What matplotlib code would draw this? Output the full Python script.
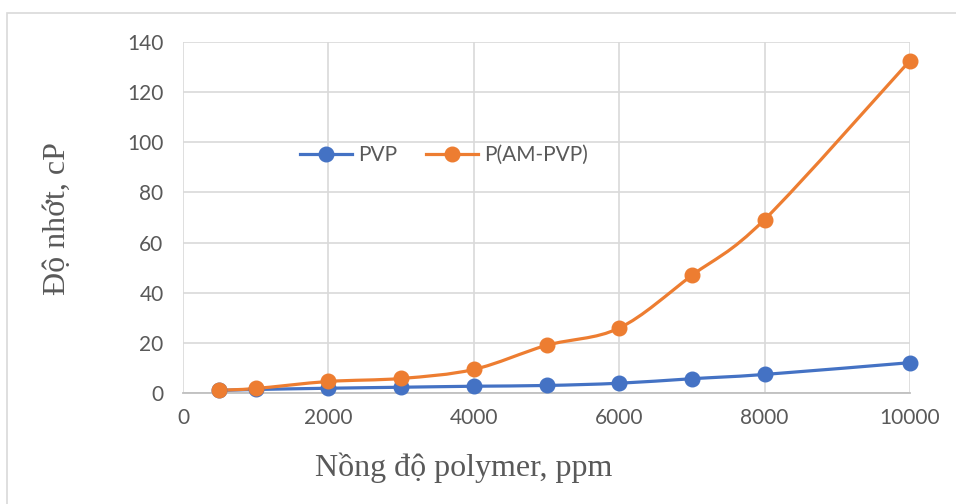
import matplotlib
matplotlib.use("Agg")
import matplotlib.pyplot as plt
from matplotlib.path import Path
from matplotlib.patches import PathPatch, Rectangle
from matplotlib.lines import Line2D
import numpy as np

# Polymer concentration (ppm) and measured viscosity (cP)
concentration = [500, 1000, 2000, 3000, 4000, 5000, 6000, 7000, 8000, 10000]
pvp = [1.0, 1.4, 1.9, 2.3, 2.7, 3.0, 3.9, 5.7, 7.4, 12.1]
p_am_pvp = [1.1, 1.8, 4.6, 5.8, 9.4, 19.0, 25.9, 46.9, 69.2, 132.6]

series_names = ["PVP", "P(AM-PVP)"]
series_colors = ["#4472C4", "#ED7D31"]
x_ticks = [0, 2000, 4000, 6000, 8000, 10000]
y_ticks = [0, 20, 40, 60, 80, 100, 120, 140]

TEXT = "#595959"
GRID = "#D9D9D9"

W, H = 956, 504
fig = plt.figure(figsize=(W / 100, H / 100), dpi=100)
fig.patch.set_facecolor("white")

# chart frame
fig.add_artist(Rectangle((7 / W, -0.1), 1.2, (H - 13) / H + 0.1,
                         transform=fig.transFigure, fill=False,
                         edgecolor="#D9D9D9", linewidth=1.2))

left, right, top, bottom = 183, 910, 42, 393
ax = fig.add_axes([left / W, 1 - bottom / H, (right - left) / W, (bottom - top) / H])
ax.set_xlim(0, 10000)
ax.set_ylim(0, 140)
ax.set_xticks(x_ticks)
ax.set_yticks(y_ticks)
ax.grid(True, color=GRID, linewidth=1.2)
ax.set_axisbelow(True)
for s in ["top", "right", "left"]:
    ax.spines[s].set_visible(False)
ax.spines["bottom"].set_color("#BFBFBF")
ax.spines["bottom"].set_linewidth(1.3)
ax.tick_params(length=0, labelsize=15, labelcolor=TEXT)
ax.tick_params(axis="x", pad=11)
ax.tick_params(axis="y", pad=14)
for lbl in ax.get_xticklabels() + ax.get_yticklabels():
    lbl.set_family("Lato")


def smooth_path(xs, ys):
    """Cubic Bezier through the points (Catmull-Rom style smoothing)."""
    pts = np.column_stack([xs, ys]).astype(float)
    n = len(pts)
    verts = [pts[0]]
    codes = [Path.MOVETO]
    for i in range(n - 1):
        p0 = pts[i - 1] if i > 0 else pts[i]
        p1 = pts[i]
        p2 = pts[i + 1]
        p3 = pts[i + 2] if i + 2 < n else pts[i + 1]
        c1 = p1 + (p2 - p0) / 6.0
        c2 = p2 - (p3 - p1) / 6.0
        verts += [c1, c2, p2]
        codes += [Path.CURVE4] * 3
    return Path(verts, codes)


handles = []
for name, vals, col in zip(series_names, [pvp, p_am_pvp], series_colors):
    ax.add_patch(PathPatch(smooth_path(concentration, vals), facecolor="none",
                           edgecolor=col, linewidth=2.3, capstyle="round",
                           joinstyle="round", zorder=3))
    ax.plot(concentration, vals, linestyle="none", marker="o", markersize=10.5,
            color=col, zorder=4, clip_on=False)
    handles.append(Line2D([], [], color=col, linewidth=2.3, marker="o",
                          markersize=10.5, label=name))

leg = ax.legend(handles=handles, loc="center", bbox_to_anchor=(444 / W, 1 - 155 / H),
                bbox_transform=fig.transFigure, ncol=2, frameon=False,
                prop={"family": "Lato", "size": 15}, handlelength=2.5,
                handletextpad=0.3, columnspacing=1.4)
for t in leg.get_texts():
    t.set_color(TEXT)

fig.text(464 / W, 1 - 468 / H, "Nồng độ polymer, ppm", ha="center", va="center",
         family="Liberation Serif", fontsize=23, color=TEXT)
fig.text(57 / W, 1 - 219 / H, "Độ nhớt, cP", ha="center", va="center",
         rotation=90, family="Liberation Serif", fontsize=23, color=TEXT)

fig.savefig("out.png", dpi=100)
